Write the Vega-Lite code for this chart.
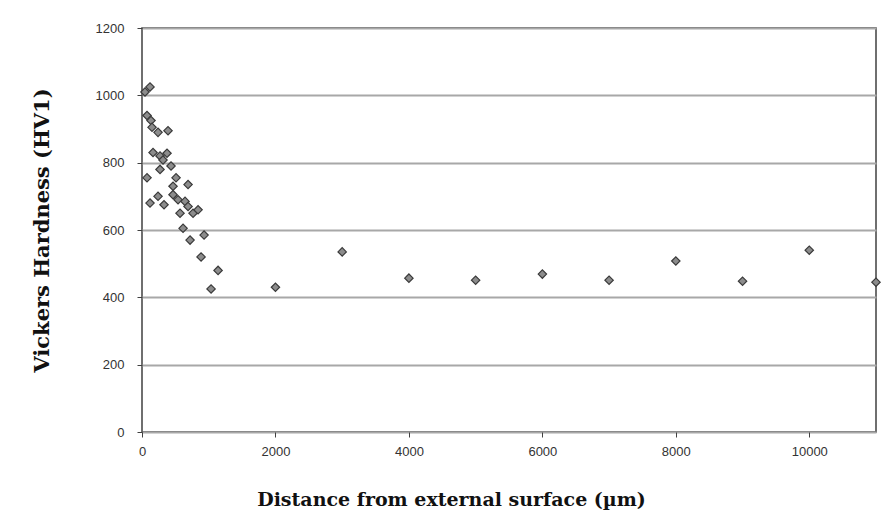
{
  "$schema": "https://vega.github.io/schema/vega-lite/v6.json",
  "width": 734,
  "height": 404,
  "autosize": {"type": "none"},
  "padding": {"left": 142, "top": 28, "right": 12, "bottom": 92},
  "background": "white",
  "config": {
    "view": {"stroke": "#404040", "strokeWidth": 1.5},
    "axis": {"labelFont": "Liberation Sans", "labelFontSize": 13, "labelColor": "#333333", "titleFont": "DejaVu Serif", "titleFontSize": 19, "titleFontWeight": "bold", "titleColor": "#111111", "domain": false, "tickColor": "#404040", "tickSize": 5}
  },
  "data": {
    "values": [
      {"distance": 45, "hardness": 1010},
      {"distance": 120, "hardness": 1025},
      {"distance": 75, "hardness": 940},
      {"distance": 135, "hardness": 925},
      {"distance": 150, "hardness": 905},
      {"distance": 240, "hardness": 890},
      {"distance": 390, "hardness": 895},
      {"distance": 165, "hardness": 830},
      {"distance": 270, "hardness": 820},
      {"distance": 375, "hardness": 828},
      {"distance": 315, "hardness": 808},
      {"distance": 435, "hardness": 790},
      {"distance": 270, "hardness": 780},
      {"distance": 75, "hardness": 755},
      {"distance": 510, "hardness": 755},
      {"distance": 465, "hardness": 730},
      {"distance": 690, "hardness": 735},
      {"distance": 465, "hardness": 705},
      {"distance": 120, "hardness": 680},
      {"distance": 240, "hardness": 700},
      {"distance": 330, "hardness": 675},
      {"distance": 540, "hardness": 690},
      {"distance": 645, "hardness": 685},
      {"distance": 690, "hardness": 670},
      {"distance": 765, "hardness": 650},
      {"distance": 840, "hardness": 660},
      {"distance": 570, "hardness": 650},
      {"distance": 615, "hardness": 605},
      {"distance": 720, "hardness": 570},
      {"distance": 930, "hardness": 585},
      {"distance": 885, "hardness": 520},
      {"distance": 1140, "hardness": 480},
      {"distance": 1035, "hardness": 425},
      {"distance": 2000, "hardness": 430},
      {"distance": 3000, "hardness": 535},
      {"distance": 4000, "hardness": 457},
      {"distance": 5000, "hardness": 451},
      {"distance": 6000, "hardness": 469},
      {"distance": 7000, "hardness": 451},
      {"distance": 8000, "hardness": 508},
      {"distance": 9000, "hardness": 448},
      {"distance": 10000, "hardness": 540},
      {"distance": 11000, "hardness": 445}
    ]
  },
  "mark": {"type": "point", "shape": "diamond", "filled": true, "fill": "#8c8c8c", "stroke": "#3a3a3a", "strokeWidth": 1.2, "size": 70, "opacity": 1, "clip": false},
  "encoding": {
    "x": {
      "field": "distance", "type": "quantitative",
      "scale": {"domain": [0, 11000], "nice": false, "zero": true},
      "axis": {"values": [0, 2000, 4000, 6000, 8000, 10000], "format": "d", "grid": false, "labelPadding": 8, "title": "Distance from external surface (µm)", "titlePadding": 32, "titleX": 309, "titleAnchor": "start", "titleAlign": "center", "labelFlush": false}
    },
    "y": {
      "field": "hardness", "type": "quantitative",
      "scale": {"domain": [0, 1200], "nice": false},
      "axis": {"values": [0, 200, 400, 600, 800, 1000, 1200], "format": "d", "grid": true, "gridColor": "#a8a8a8", "gridWidth": 2, "labelPadding": 13, "title": "Vickers Hardness (HV1)", "titleFontSize": 21, "titlePadding": 43}
    }
  }
}
